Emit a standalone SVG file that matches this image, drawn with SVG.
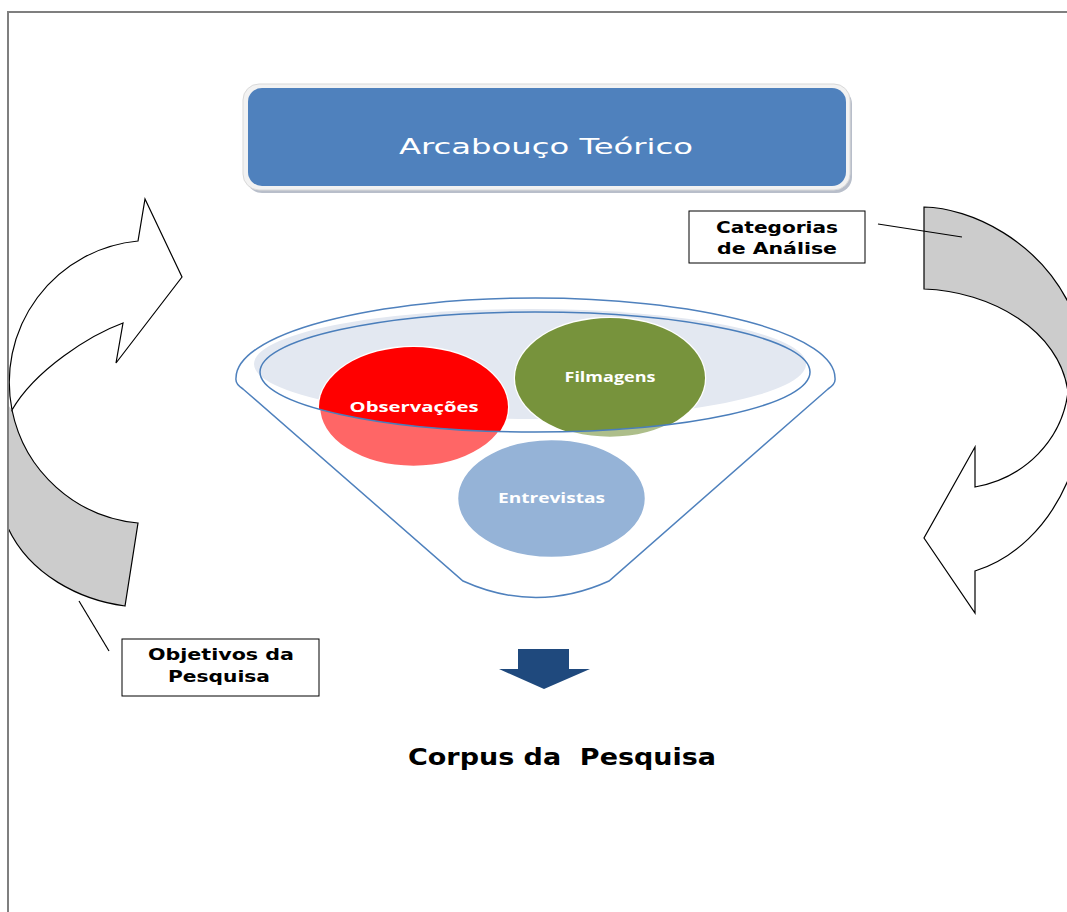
<svg xmlns="http://www.w3.org/2000/svg" width="1067" height="912" viewBox="0 0 1067 912">
<style>
.ln{fill:none;stroke:#000;stroke-width:1.2}
.lbl{font-family:"DejaVu Sans",sans-serif;font-weight:bold;font-size:16px;fill:#000;text-anchor:middle}
.cir{font-family:"Open Sans","Noto Sans",sans-serif;font-weight:bold;font-size:14px;fill:#fff;text-anchor:middle}
.box{fill:#fff;stroke:#000;stroke-width:1}
</style>
<defs>
<clipPath id="rimClip"><ellipse cx="535" cy="372" rx="275" ry="60"/></clipPath>
</defs>
<rect width="1067" height="912" fill="#fff"/>

<g id="left-arrow">
<path d="M12,410 A142,142 0 0 0 138,523 L125,606 C80,600 30,575 8,528 L8,405 Z" fill="#cccccc"/>
<path class="ln" d="M12,410 A142,142 0 0 0 138,523 L125,606 C80,600 30,575 8,528"/>
<path d="M12,410 A142,142 0 0 1 138,241 L145,199 L182,277 L116,363 L123,323 C90,335 35,370 12,410 Z" fill="#fff" stroke="#000" stroke-width="1.2"/>
</g>

<g id="right-arrow">
<path d="M924,207 C970,208 1040,240 1072,310 L1072,392 L1068,392 C1060,330 990,291 924,289 Z" fill="#cccccc" stroke="#000" stroke-width="1.2"/>
<path d="M1068,392 C1062,440 1025,478 975,487 L975,447 L924,538 L975,613 L975,571 C1010,560 1050,530 1072,470 Z" fill="#fff" stroke="#000" stroke-width="1.2"/>
</g>

<g id="title">
<rect x="246" y="88" width="606" height="105" rx="16" fill="#9aa3b3" opacity="0.7"/>
<rect x="243" y="84" width="607" height="106" rx="16" fill="#f2f2f2" stroke="#d9d9d9" stroke-width="1"/>
<rect x="248" y="88" width="598" height="98" rx="14" fill="#4f81bd"/>
<text x="546" y="154" font-family="DejaVu Sans, sans-serif" font-size="21" fill="#fff" text-anchor="middle" textLength="294" lengthAdjust="spacingAndGlyphs">Arcabouço Teórico</text>
</g>

<g id="categorias">
<rect class="box" x="689" y="211" width="176" height="52"/>
<text class="lbl" x="777" y="233" textLength="122" lengthAdjust="spacingAndGlyphs">Categorias</text>
<text class="lbl" x="777" y="254" textLength="120" lengthAdjust="spacingAndGlyphs">de Análise</text>
</g>

<g id="objetivos">
<rect class="box" x="122" y="639" width="197" height="57"/>
<text class="lbl" x="221" y="660" textLength="146" lengthAdjust="spacingAndGlyphs">Objetivos da</text>
<text class="lbl" x="219" y="682" textLength="102" lengthAdjust="spacingAndGlyphs">Pesquisa</text>
</g>

<g id="funnel">
<path d="M243,389 Q235,384 236,378 A299.5,80 0 0 1 835,378 Q836,384 828,389 L609,581 Q536,614 463,581 Z" fill="#fff" stroke="#4f81bd" stroke-width="1.5"/>
<ellipse cx="530" cy="364" rx="276" ry="55" fill="#e3e8f1"/>
</g>

<g id="observacoes">
<ellipse cx="413.5" cy="407" rx="94.5" ry="60" fill="#ff0000" fill-opacity="0.6" stroke="#fff" stroke-width="2.5"/>
<ellipse cx="413.5" cy="407" rx="94.5" ry="60" fill="#ff0000" clip-path="url(#rimClip)"/>
<text class="cir" x="414" y="412" textLength="129" lengthAdjust="spacingAndGlyphs">Observações</text>
</g>

<g id="filmagens">
<ellipse cx="610" cy="378" rx="95" ry="60" fill="#77933c" fill-opacity="0.6" stroke="#fff" stroke-width="2.5"/>
<ellipse cx="610" cy="378" rx="95" ry="60" fill="#77933c" clip-path="url(#rimClip)"/>
<text class="cir" x="610" y="382" textLength="91" lengthAdjust="spacingAndGlyphs">Filmagens</text>
</g>

<g id="entrevistas">
<ellipse cx="551.5" cy="498.5" rx="94.5" ry="59.5" fill="#95b3d7" stroke="#fff" stroke-width="2.5"/>
<text class="cir" x="551.5" y="503" textLength="107" lengthAdjust="spacingAndGlyphs">Entrevistas</text>
</g>

<g id="rim">
<ellipse cx="535" cy="372" rx="275" ry="60" fill="none" stroke="#4a7ebb" stroke-width="1.5"/>
</g>

<g id="down-arrow">
<path d="M518,649 L569,649 L569,669 L590,669 L544,689 L499,669 L518,669 Z" fill="#1f497d"/>
</g>

<g id="corpus">
<text x="562" y="765" font-family="DejaVu Sans, sans-serif" font-weight="bold" font-size="23" fill="#000" text-anchor="middle" textLength="308" lengthAdjust="spacingAndGlyphs" xml:space="preserve">Corpus da  Pesquisa</text>
</g>

<g id="connectors">
<line class="ln" x1="79" y1="601" x2="109" y2="651" stroke-width="1"/>
<line class="ln" x1="878" y1="224" x2="962" y2="237" stroke-width="1"/>
</g>

<g id="frame">
<path d="M8,912 L8,12 L1067,12" fill="none" stroke="#7f7f7f" stroke-width="2"/>
</g>
</svg>
